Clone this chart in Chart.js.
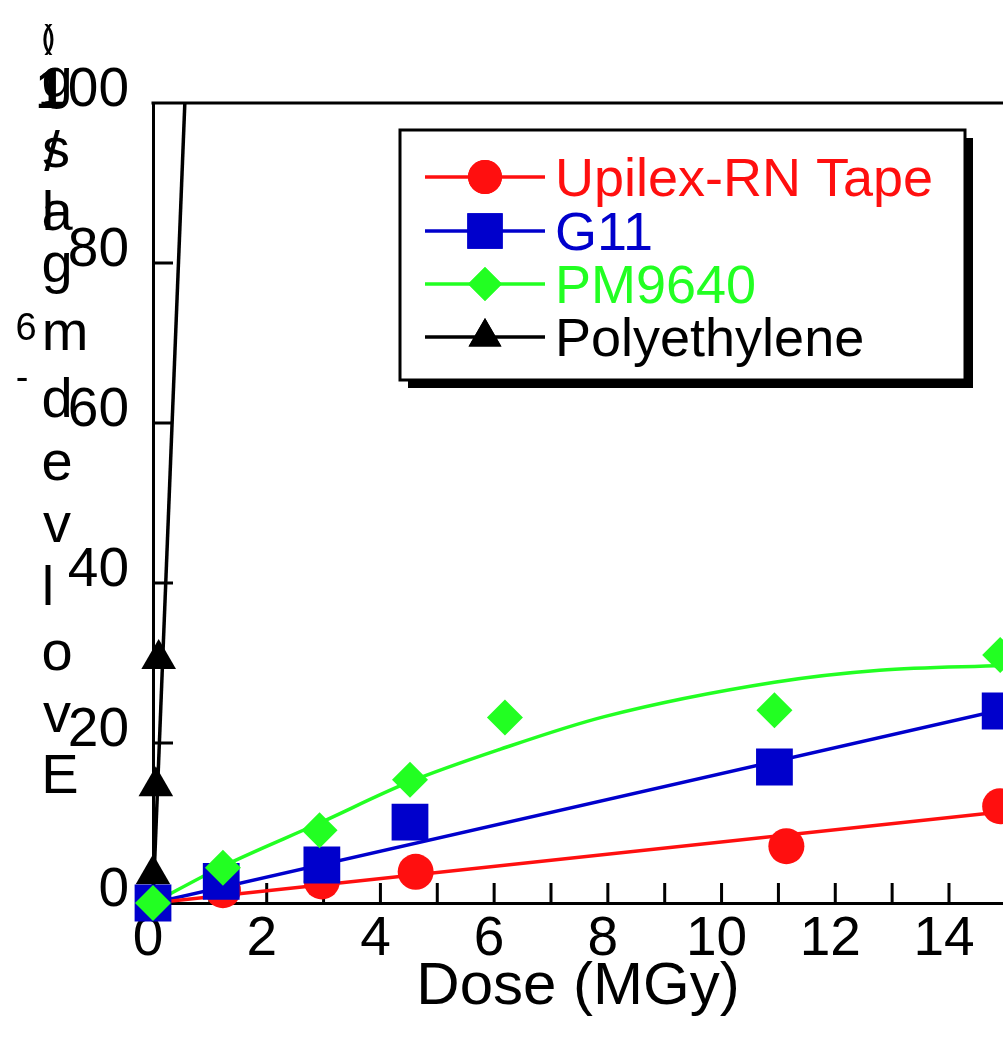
<!DOCTYPE html>
<html>
<head>
<meta charset="utf-8">
<script src="https://cdn.jsdelivr.net/npm/chart.js@4.4.1/dist/chart.umd.min.js"></script>
<style>
  html, body { margin: 0; padding: 0; background: #fff; }
  canvas { display: block; }
</style>
</head>
<body>
<canvas id="chart" width="1003" height="1037"></canvas>
<script>
// series
const seriesNames = ['Upilex-RN Tape', 'G11', 'PM9640', 'Polyethylene'];
const seriesColors = ['#ff0f0f', '#0000cc', '#22ff22', '#000000'];
const seriesMarkers = ['circle', 'rect', 'rectRot', 'triangle'];
const markerRadius = [18, 26, 18, 20];

// measured points (dose MGy, evolved gas)
const upilexDose = [0, 1.23, 2.97, 4.62, 11.14, 14.9];
const upilexGas  = [0, 1.6, 2.7, 3.9, 7.1, 12.1];
const g11Dose = [0, 1.2, 2.97, 4.52, 10.93, 14.9];
const g11Gas  = [0, 2.7, 4.75, 10.1, 17, 24];
const pmDose = [0, 1.23, 2.93, 4.52, 6.19, 10.93, 14.9];
const pmGas  = [0, 4.4, 9.1, 15.4, 23.2, 24.1, 31];
const peDose = [0, 0.05, 0.1];
const peGas  = [3.6, 14.6, 30.5];

// fitted curves
const upilexFitDose = [0, 14.95];
const upilexFitGas  = [0, 11.4];
const g11FitDose = [0, 14.95];
const g11FitGas  = [0, 24.2];
const pmFitDose = [0, 1.23, 2.93, 4.5, 6.1, 7.94, 10.93, 12.78, 14.95];
const pmFitGas  = [0, 4.6, 10, 15.1, 19.2, 23.3, 27.6, 29.1, 29.7];
const peFitDose = [0, 0.56];
const peFitGas  = [0, 100];

const xMax = 14.95;
const yMax = 100;

// the y title comes out as stacked glyphs in the original: [char, x, baseline, size]
const yTitleGlyphs = [
  ['(', 47, 48, 34], [')', 50, 48, 34],
  ['1', 50, 108, 56], ['g', 57, 97, 56],
  ['/', 52, 170, 56], ['s', 56, 167, 56],
  ['l', 48, 230, 56], ['a', 57, 230, 56],
  ['g', 57, 282, 56],
  ['6', 26, 340, 38], ['m', 65, 350, 56],
  ['-', 22, 390, 38], ['d', 57, 417, 56],
  ['e', 57, 480, 56], ['v', 57, 542, 56], ['l', 48, 605, 56],
  ['o', 57, 670, 56], ['v', 57, 732, 56], ['E', 60, 793, 56]
];

const FONT = '"Liberation Sans", Arial, Helvetica, sans-serif';

const zip = (xs, ys) => xs.map((x, i) => ({ x: x, y: ys[i] }));

const pointSets = [
  [upilexDose, upilexGas], [g11Dose, g11Gas], [pmDose, pmGas], [peDose, peGas]
];
const fitSets = [
  [upilexFitDose, upilexFitGas], [g11FitDose, g11FitGas], [pmFitDose, pmFitGas], [peFitDose, peFitGas]
];
// green on top, then blue, red, black
const pointOrder = [2, 1, 0, 3];

const datasets = [];
seriesNames.forEach((name, i) => {
  datasets.push({
    label: name,
    data: zip(pointSets[i][0], pointSets[i][1]),
    showLine: false,
    pointStyle: seriesMarkers[i],
    pointRadius: markerRadius[i],
    pointHoverRadius: markerRadius[i],
    pointBackgroundColor: seriesColors[i],
    pointBorderColor: seriesColors[i],
    pointBorderWidth: 0,
    order: pointOrder[i],
    clip: false
  });
  datasets.push({
    type: 'line',
    label: name + ' fit',
    data: zip(fitSets[i][0], fitSets[i][1]),
    borderColor: seriesColors[i],
    borderWidth: 3.5,
    pointRadius: 0,
    fill: false,
    tension: i === 2 ? 0.4 : 0,
    cubicInterpolationMode: i === 2 ? 'monotone' : 'default',
    order: 10 + i
  });
});

// inward tick marks + top frame line
const frame = {
  id: 'frame',
  beforeDatasetsDraw(chart) {
    const { ctx, chartArea: a, scales: { x, y } } = chart;
    ctx.save();
    ctx.strokeStyle = '#000';
    ctx.lineWidth = 3;
    ctx.beginPath();
    x.ticks.forEach(t => {
      const px = x.getPixelForValue(t.value);
      ctx.moveTo(px, a.bottom);
      ctx.lineTo(px, a.bottom - 20);
    });
    y.ticks.forEach(t => {
      const py = y.getPixelForValue(t.value);
      ctx.moveTo(a.left, py);
      ctx.lineTo(a.left + 20, py);
    });
    ctx.moveTo(a.left - 1.5, a.top);
    ctx.lineTo(a.right + 2, a.top);
    ctx.stroke();
    ctx.restore();
  }
};

// boxed legend with shadow + stacked y title
const overlay = {
  id: 'overlay',
  afterDraw(chart) {
    const ctx = chart.ctx;
    ctx.save();

    const bx = 400, by = 130, bw = 565, bh = 250;
    ctx.fillStyle = '#000';
    ctx.fillRect(bx + 8, by + 8, bw, bh);
    ctx.fillStyle = '#fff';
    ctx.fillRect(bx, by, bw, bh);
    ctx.lineWidth = 3;
    ctx.strokeStyle = '#000';
    ctx.strokeRect(bx, by, bw, bh);

    const rowY = [177, 231, 284, 337];
    ctx.font = '54px ' + FONT;
    ctx.textBaseline = 'alphabetic';
    ctx.textAlign = 'left';
    seriesNames.forEach((name, i) => {
      const yy = rowY[i];
      ctx.strokeStyle = seriesColors[i];
      ctx.lineWidth = 3.5;
      ctx.beginPath();
      ctx.moveTo(425, yy);
      ctx.lineTo(545, yy);
      ctx.stroke();
      ctx.fillStyle = seriesColors[i];
      Chart.helpers.drawPoint(ctx, {
        pointStyle: seriesMarkers[i],
        radius: i === 1 ? 25 : markerRadius[i] - 1,
        rotation: 0,
        borderWidth: 0
      }, 485, yy);
      ctx.fill();
      ctx.fillText(name, 555, yy + 19);
    });

    ctx.fillStyle = '#000';
    ctx.textAlign = 'center';
    yTitleGlyphs.forEach(([ch, gx, gy, size]) => {
      ctx.font = size + 'px ' + FONT;
      ctx.fillText(ch, gx, gy);
    });
    ctx.restore();
  }
};

new Chart(document.getElementById('chart'), {
  type: 'scatter',
  data: { datasets: datasets },
  options: {
    responsive: false,
    devicePixelRatio: 1,
    animation: false,
    layout: { autoPadding: false, padding: { top: 103, left: 0, right: 0, bottom: 0 } },
    plugins: { legend: { display: false }, tooltip: { enabled: false } },
    scales: {
      x: {
        type: 'linear',
        min: 0,
        max: xMax,
        afterFit: s => { s.height = 134; s.paddingRight = 0; s.paddingLeft = 0; },
        border: { display: true, color: '#000', width: 3 },
        grid: { display: true, drawOnChartArea: false, drawTicks: false },
        ticks: {
          stepSize: 1,
          includeBounds: false,
          autoSkip: false,
          maxRotation: 0,
          padding: 4,
          labelOffset: -5,
          color: '#000',
          font: { family: FONT, size: 55 },
          callback: v => (v % 2 === 0 ? v : '')
        },
        title: {
          display: true,
          text: 'Dose (MGy)',
          color: '#000',
          font: { family: FONT, size: 60 },
          padding: { top: 0, bottom: 14 }
        }
      },
      y: {
        type: 'linear',
        min: 0,
        max: yMax,
        afterFit: s => { s.width = 153; s.paddingTop = 0; s.paddingBottom = 0; },
        border: { display: true, color: '#000', width: 3 },
        grid: { display: true, drawOnChartArea: false, drawTicks: false },
        ticks: {
          stepSize: 20,
          padding: 24,
          labelOffset: -12,
          color: '#000',
          font: { family: FONT, size: 55 }
        }
      }
    }
  },
  plugins: [frame, overlay]
});
</script>
</body>
</html>
